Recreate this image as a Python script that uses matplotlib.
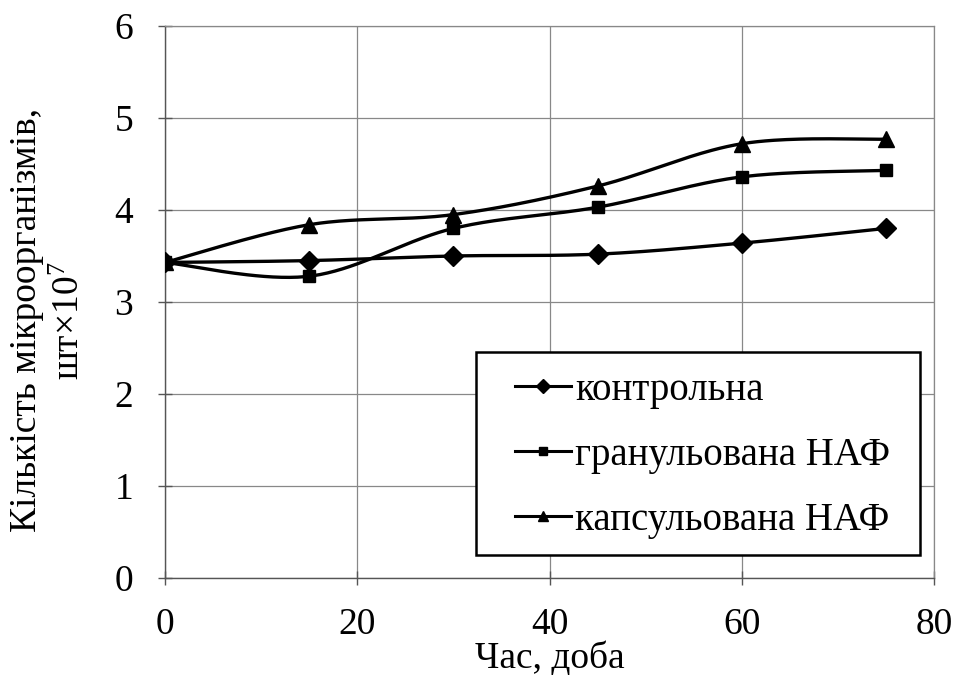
import matplotlib.pyplot as plt
from matplotlib.patches import Rectangle
import numpy as np

plt.rcParams['font.family'] = ['Liberation Serif', 'DejaVu Serif']
plt.rcParams['mathtext.fontset'] = 'custom'
plt.rcParams['mathtext.rm'] = 'Liberation Serif'
plt.rcParams['mathtext.it'] = 'Liberation Serif:italic'

days = [0, 15, 30, 45, 60, 75]
kontrolna = [3.43, 3.45, 3.50, 3.52, 3.64, 3.80]
granulovana = [3.43, 3.28, 3.80, 4.03, 4.36, 4.43]
kapsulovana = [3.43, 3.84, 3.95, 4.26, 4.72, 4.77]
names = ["контрольна", "гранульована НАФ", "капсульована НАФ"]
markers = ["D", "s", "^"]
msizes = [10, 9, 11]


def smooth(x, y, n=40):
    # Excel-like smoothed line: cubic Bezier through the points
    x = np.asarray(x, float)
    y = np.asarray(y, float)
    px, py = [], []
    for i in range(len(x) - 1):
        i0 = max(i - 1, 0)
        i3 = min(i + 2, len(x) - 1)
        c1x = x[i] + (x[i + 1] - x[i0]) / 6
        c1y = y[i] + (y[i + 1] - y[i0]) / 6
        c2x = x[i + 1] - (x[i3] - x[i]) / 6
        c2y = y[i + 1] - (y[i3] - y[i]) / 6
        t = np.linspace(0, 1, n)
        bx = (1-t)**3*x[i] + 3*(1-t)**2*t*c1x + 3*(1-t)*t**2*c2x + t**3*x[i+1]
        by = (1-t)**3*y[i] + 3*(1-t)**2*t*c1y + 3*(1-t)*t**2*c2y + t**3*y[i+1]
        px.extend(bx)
        py.extend(by)
    return px, py


fig = plt.figure(figsize=(9.55, 6.75), dpi=100)
ax = fig.add_axes([0.1728, 0.1437, 0.8052, 0.8178])

for vals, name, m, ms in zip([kontrolna, granulovana, kapsulovana], names, markers, msizes):
    sx, sy = smooth(days, vals)
    ax.plot(sx, sy, color='black', lw=2.4, zorder=3)
    ax.plot(days, vals, linestyle='none', marker=m, ms=ms, color='black', zorder=4)
    ax.plot([], [], color='black', lw=2.2, marker=m, ms=ms * 0.7, label=name)

ax.set_xlim(0, 80)
ax.set_ylim(0, 6)
ax.set_xticks([0, 20, 40, 60, 80])
ax.set_yticks([0, 1, 2, 3, 4, 5, 6])
ax.grid(True, color='#888888', lw=0.9)
for s in ['top', 'right']:
    ax.spines[s].set_color('#888888')
    ax.spines[s].set_linewidth(0.9)
for s in ['left', 'bottom']:
    ax.spines[s].set_color('#555555')
    ax.spines[s].set_linewidth(1.0)
ax.tick_params(direction='inout', length=10, width=1, labelsize=27, color='#555555')
ax.tick_params(axis='x', pad=16)
ax.tick_params(axis='y', pad=18)

ax.set_xlabel("Час, доба", fontsize=27, labelpad=0)
ax.set_ylabel("Кількість мікроорганізмів,\nшт×10$^7$", fontsize=27, linespacing=1.3)
ax.yaxis.set_label_coords(-0.102, 0.467)

# legend box
ax.add_patch(Rectangle((476 / 955, 1 - 555 / 675), 444 / 955, 203 / 675,
                       transform=fig.transFigure, facecolor='white',
                       edgecolor='black', lw=1.8, zorder=5, clip_on=False))
leg = ax.legend(loc='upper left', bbox_to_anchor=(515 / 955, 1 - 372 / 675),
                bbox_transform=fig.transFigure, fontsize=28, frameon=False,
                handlelength=1.45, handletextpad=0.1, labelspacing=0.72, borderpad=0,
                borderaxespad=0)
leg.set_zorder(6)

fig.savefig("out.png", dpi=100, facecolor='white')
